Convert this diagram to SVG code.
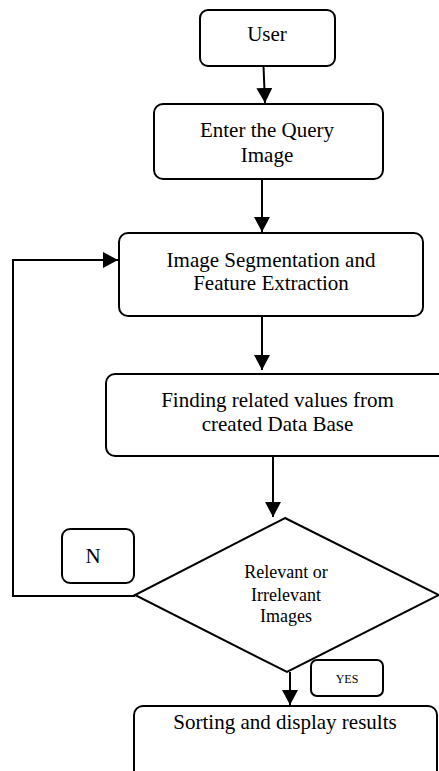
<svg xmlns="http://www.w3.org/2000/svg" width="439" height="771" viewBox="0 0 439 771">
<defs>
<style>
.box{fill:#fff;stroke:#000;stroke-width:2}
.ln{fill:none;stroke:#000;stroke-width:2}
text{font-family:"Liberation Serif","Times New Roman",serif;fill:#000;text-anchor:middle}
.t{font-size:21px}
.d{font-size:18px}
.s{font-size:12px}
</style>
<marker id="ah" markerUnits="userSpaceOnUse" markerWidth="16" markerHeight="16" viewBox="0 0 16 16" refX="15" refY="8" orient="auto">
<path d="M0,0 L15,8 L0,16 Z" fill="#000"/>
</marker>
</defs>
<rect width="439" height="771" fill="#fff"/>
<g id="connectors">
<path class="ln" d="M263.5,66 L265,103" marker-end="url(#ah)"/>
<path class="ln" d="M262,179 L262,232" marker-end="url(#ah)"/>
<path class="ln" d="M262,316 L262,370" marker-end="url(#ah)"/>
<path class="ln" d="M273,457 L273,517" marker-end="url(#ah)"/>
<path class="ln" d="M290,672 L290,705" marker-end="url(#ah)"/>
<path class="ln" d="M135,596 L13,596 L13,260 L118,260" marker-end="url(#ah)"/>
</g>
<g id="user">
<rect class="box" x="200" y="10" width="135" height="56" rx="8"/>
<text class="t" x="267" y="41">User</text>
</g>
<g id="enter">
<rect class="box" x="154" y="104" width="229" height="75" rx="9"/>
<text class="t" x="267" y="137">Enter the Query</text>
<text class="t" x="267" y="162">Image</text>
</g>
<g id="segment">
<rect class="box" x="119" y="233" width="304" height="83" rx="9"/>
<text class="t" x="271" y="267">Image Segmentation and</text>
<text class="t" x="271" y="290">Feature Extraction</text>
</g>
<g id="finding">
<rect class="box" x="106" y="374" width="345" height="82" rx="9"/>
<text class="t" x="277.5" y="407">Finding related values from</text>
<text class="t" x="277.5" y="431">created Data Base</text>
</g>
<g id="decision">
<polygon class="box" points="285,518 439,595 287,672 135,595"/>
<text class="d" x="286" y="578">Relevant or</text>
<text class="d" x="286" y="601">Irrelevant</text>
<text class="d" x="286" y="622">Images</text>
</g>
<g id="n-label">
<rect class="box" x="62" y="529" width="72" height="54" rx="8"/>
<text class="t" x="93" y="563">N</text>
</g>
<g id="yes-label">
<rect class="box" x="311" y="660" width="72" height="36" rx="6"/>
<text class="s" x="347" y="683">YES</text>
</g>
<g id="sorting">
<rect class="box" x="134" y="706" width="303" height="90" rx="9"/>
<text class="t" x="285" y="729">Sorting and display results</text>
</g>
</svg>
